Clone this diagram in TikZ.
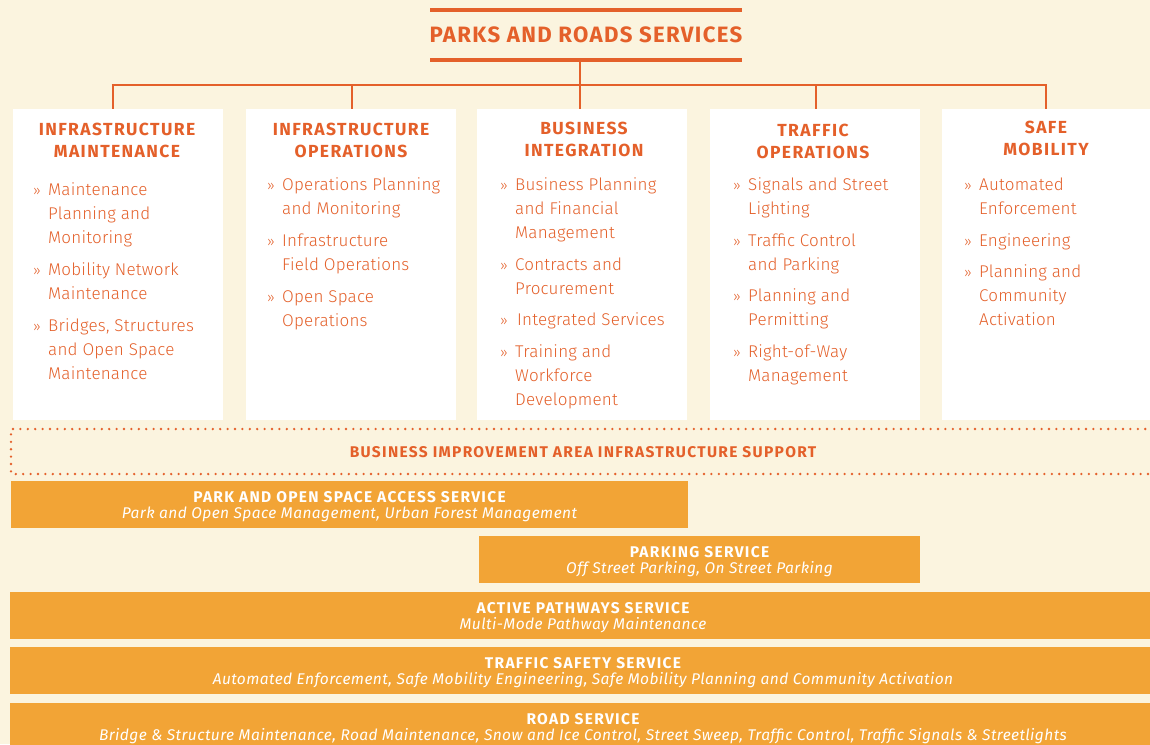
\documentclass[tikz,border=0pt]{standalone}
\usepackage{fontspec}
\setmainfont{Fira Sans}
\newfontfamily\lightfont{Fira Sans Light}
\definecolor{bg}{HTML}{FBF4DF}
\definecolor{org}{HTML}{E4602A}
\definecolor{barc}{HTML}{F2A436}
\newcommand\tlines[6]{%
  \foreach \txt [count=\i from 0] in {#6} {\node[#2] (#1-\i) at (#3, #4+\i*#5) {\txt};}}
\newcommand\bitem[4]{% name, x, y, lines
  \node[itm, font=\lightfont\fontsize{14}{16}\selectfont] (#1-b) at (#2-15,#3) {»};
  \tlines{#1}{itm}{#2}{#3}{24}{#4}}
\begin{document}
\begin{tikzpicture}[x=1pt,y=-1pt,
  box/.style={fill=white, draw=none, anchor=north west, inner sep=0, outer sep=0, minimum width=210pt, minimum height=311pt},
  head/.style={text=org, font=\fontsize{17.5}{20}\selectfont\bfseries\addfontfeature{LetterSpace=8}, inner sep=0, anchor=mid, yshift=-4pt},
  itm/.style={text=org, font=\lightfont\fontsize{17}{20}\selectfont\addfontfeature{LetterSpace=1.2}, inner sep=0, anchor=mid west, yshift=-4pt},
  conn/.style={draw=org, line width=2.6pt},
  rule/.style={draw=org, line width=4.4pt},
  dots/.style={draw=org, line width=2.6pt, line cap=round, dash pattern=on 0pt off 7.4pt},
  bartitle/.style={text=white, font=\fontsize{15.5}{16}\selectfont\bfseries\addfontfeature{LetterSpace=8.5}, inner sep=0, anchor=mid, yshift=-4pt},
  barsub/.style={text=white, font=\fontsize{15.5}{16}\selectfont\itshape\addfontfeature{LetterSpace=2.7}, inner sep=0, anchor=mid, yshift=-4pt},
  svc/.style={fill=barc, anchor=north west, inner sep=0, outer sep=0, minimum height=47pt},
]
\useasboundingbox (0,0) rectangle (1150,744);
\fill[bg] (0,0) rectangle (1150,744);
\clip (0,0) rectangle (1150,744);

% title
\node[text=org, font=\fontsize{22.2}{24}\selectfont\bfseries\addfontfeature{LetterSpace=6}, inner sep=0, anchor=mid, yshift=-5pt] (title) at (586,35) {PARKS AND ROADS SERVICES};
\coordinate (tl1) at (430,10); \coordinate (tr1) at (742,10);
\coordinate (tl2) at (430,60); \coordinate (tr2) at (742,60);
\draw[rule] (tl1) -- (tr1);
\draw[rule] (tl2) -- (tr2);

% boxes
\node[box] (b1) at (13,109) {};
\node[box] (b2) at (246,109) {};
\node[box] (b3) at (477,109) {};
\node[box] (b4) at (710,109) {};
\node[box, minimum width=220pt] (b5) at (942,109) {};

% connectors
\coordinate (root) at (580,62);
\coordinate (j1) at (113,85);
\coordinate (j2) at (352,85);
\coordinate (j3) at (580,85);
\coordinate (j4) at (816,85);
\coordinate (j5) at (1046,85);
\draw[conn] (root) -- (j3);
\draw[conn] ([xshift=-1.3pt]j1) -- ([xshift=1.3pt]j5);
\draw[conn] (j1) -- (j1 |- b1.north);
\draw[conn] (j2) -- (j2 |- b2.north);
\draw[conn] (j3) -- (j3 |- b3.north);
\draw[conn] (j4) -- (j4 |- b4.north);
\draw[conn] (j5) -- (j5 |- b5.north);

% headings
\tlines{h1}{head}{117}{129}{22}{INFRASTRUCTURE,MAINTENANCE}
\tlines{h2}{head}{351}{129}{22}{INFRASTRUCTURE,OPERATIONS}
\tlines{h3}{head}{584}{128}{22}{BUSINESS,INTEGRATION}
\tlines{h4}{head}{813}{130}{22}{TRAFFIC,OPERATIONS}
\tlines{h5}{head}{1046}{127}{22}{SAFE,MOBILITY}

% items
\bitem{i11}{48}{189}{Maintenance,Planning and,Monitoring}
\bitem{i12}{48}{269}{Mobility Network,Maintenance}
\bitem{i13}{48}{325}{{Bridges, Structures},and Open Space,Maintenance}

\bitem{i21}{282}{184}{Operations Planning,and Monitoring}
\bitem{i22}{282}{240}{Infrastructure,Field Operations}
\bitem{i23}{282}{296}{Open Space,Operations}

\bitem{i31}{515}{184}{Business Planning,and Financial,Management}
\bitem{i32}{515}{264}{Contracts and,Procurement}
\bitem{i33}{515}{319}{\hspace{2pt}Integrated Services}
\bitem{i34}{515}{351}{Training and,Workforce,Development}

\bitem{i41}{748}{184}{Signals and Street,Lighting}
\bitem{i42}{748}{240}{Traffic Control,and Parking}
\bitem{i43}{748}{295}{Planning and,Permitting}
\bitem{i44}{748}{351}{Right-of-Way,Management}

\bitem{i51}{979}{184}{Automated,Enforcement}
\bitem{i52}{979}{240}{Engineering}
\bitem{i53}{979}{271}{Planning and,Community,Activation}

% BIA band
\coordinate (d1) at (1160,429);
\coordinate (d2) at (11,429);
\coordinate (d3) at (11,474);
\coordinate (d4) at (1160,474);
\draw[dots] (d1) -- (d2) -- (d3) -- (d4);
\node[text=org, font=\fontsize{15.5}{16}\selectfont\bfseries\addfontfeature{LetterSpace=8.5}, inner sep=0, anchor=mid, yshift=-4pt] (bia) at (583,451) {BUSINESS IMPROVEMENT AREA INFRASTRUCTURE SUPPORT};

% service bars
\node[svc, minimum width=677pt] (s1) at (11,481) {};
\node[bartitle] (s1t) at ([yshift=-15pt]s1.north) {PARK AND OPEN SPACE ACCESS SERVICE};
\node[barsub] (s1s) at ([yshift=-31pt]s1.north) {Park and Open Space Management, Urban Forest Management};

\node[svc, minimum width=441pt] (s2) at (479,536) {};
\node[bartitle] (s2t) at ([yshift=-15pt]s2.north) {PARKING SERVICE};
\node[barsub] (s2s) at ([yshift=-31pt]s2.north) {Off Street Parking, On Street Parking};

\node[svc, minimum width=1146pt] (s3) at (10,592) {};
\node[bartitle] (s3t) at ([yshift=-15pt]s3.north) {ACTIVE PATHWAYS SERVICE};
\node[barsub] (s3s) at ([yshift=-31pt]s3.north) {Multi-Mode Pathway Maintenance};

\node[svc, minimum width=1146pt] (s4) at (10,647) {};
\node[bartitle] (s4t) at ([yshift=-15pt]s4.north) {TRAFFIC SAFETY SERVICE};
\node[barsub] (s4s) at ([yshift=-31pt]s4.north) {Automated Enforcement, Safe Mobility Engineering, Safe Mobility Planning and Community Activation};

\node[svc, minimum width=1146pt] (s5) at (10,703) {};
\node[bartitle] (s5t) at ([yshift=-15pt]s5.north) {ROAD SERVICE};
\node[barsub] (s5s) at ([yshift=-31pt]s5.north) {Bridge \& Structure Maintenance, Road Maintenance, Snow and Ice Control, Street Sweep, Traffic Control, Traffic Signals \& Streetlights};
\end{tikzpicture}
\end{document}
